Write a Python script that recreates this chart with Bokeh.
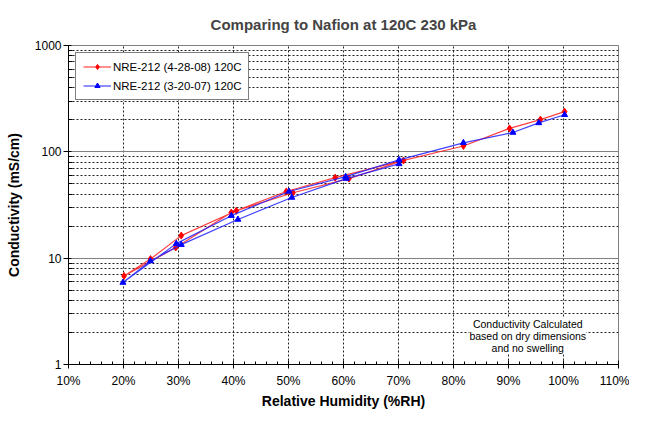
from bokeh.plotting import figure
from bokeh.models import (FixedTicker, PrintfTickFormatter, NumeralTickFormatter,
                          Legend, LegendItem, Label, Range1d)
from bokeh.embed import file_html
from bokeh.resources import INLINE

chart_title = "Comparing to Nafion at 120C 230 kPa"
x_label = "Relative Humidity (%RH)"
y_label = "Conductivity (mS/cm)"

# Series A: NRE-212 (4-28-08) 120C  (RH in %, conductivity in mS/cm)
a_name = "NRE-212 (4-28-08) 120C"
a_rh = [70.9, 61.0, 50.8, 40.5, 30.5, 24.9, 20.1, 29.5, 39.6, 49.6, 58.5, 70.0, 81.8, 90.2, 95.8, 100.2]
a_cond = [82.8, 56.0, 41.2, 27.9, 16.3, 9.8, 6.8, 12.6, 26.9, 42.4, 57.2, 81.0, 113.5, 166.0, 201.0, 239.0]

# Series B: NRE-212 (3-20-07) 120C
b_name = "NRE-212 (3-20-07) 120C"
b_rh = [70.1, 60.5, 50.6, 40.8, 30.5, 24.9, 19.9, 29.6, 39.6, 50.1, 60.4, 70.1, 81.8, 90.8, 95.5, 100.2]
b_cond = [77.0, 56.0, 37.2, 23.1, 13.4, 9.4, 5.9, 13.7, 25.1, 42.4, 58.4, 84.0, 121.6, 152.0, 187.0, 223.0]

x_ticks = [10, 20, 30, 40, 50, 60, 70, 80, 90, 100, 110]
x_minor = [v for v in range(10, 111, 2) if v % 10 != 0]
y_ticks = [1, 10, 100, 1000]
y_minor = [m * d for d in (1, 10, 100) for m in range(2, 10)]

note_lines = ["Conductivity Calculated", "based on dry dimensions", "and no swelling"]

FONT = "Liberation Sans"

p = figure(width=629, height=411,
           x_range=Range1d(10, 110), y_range=Range1d(1, 1000), y_axis_type="log",
           output_backend="svg", toolbar_location=None,
           min_border_left=68, min_border_right=11, min_border_top=44, min_border_bottom=43,
           title=chart_title)

p.title.align = "center"
p.title.text_font = FONT
p.title.text_font_size = "15px"
p.title.text_font_style = "bold"
p.title.standoff = 26
p.outline_line_color = "#808080"
p.background_fill_color = "white"
p.border_fill_color = "white"

# axes
p.xaxis.ticker = FixedTicker(ticks=x_ticks, minor_ticks=x_minor)
p.xaxis.formatter = PrintfTickFormatter(format="%d%%")
p.yaxis.ticker = FixedTicker(ticks=y_ticks, minor_ticks=y_minor)
p.yaxis.formatter = NumeralTickFormatter(format="0")

for ax in (p.xaxis, p.yaxis):
    ax.axis_line_color = "black"
    ax.major_tick_line_color = "black"
    ax.minor_tick_line_color = "black"
    ax.major_label_text_font = FONT
    ax.major_label_text_font_size = "12px"
    ax.major_label_text_color = "black"
    ax.axis_label_text_font = FONT
    ax.axis_label_text_font_size = "14px"
    ax.axis_label_text_font_style = "bold"
    ax.axis_label_text_color = "black"

p.xaxis.axis_label = x_label
p.xaxis.major_tick_in = 4
p.xaxis.major_tick_out = 4
p.xaxis.minor_tick_in = 3
p.xaxis.minor_tick_out = 0
p.xaxis.major_label_standoff = 5
p.xaxis.axis_label_standoff = 2

p.yaxis.axis_label = y_label
p.yaxis.major_tick_in = 3
p.yaxis.major_tick_out = 5
p.yaxis.minor_tick_in = 4
p.yaxis.minor_tick_out = 0
p.yaxis.major_label_standoff = 2
p.yaxis.axis_label_standoff = 10

# grids
p.xgrid.grid_line_color = "#222222"
p.xgrid.grid_line_dash = "2 2"
p.xgrid.grid_line_width = 1
p.ygrid.grid_line_color = "#808080"
p.ygrid.grid_line_width = 1.2
p.ygrid.minor_grid_line_color = "#222222"
p.ygrid.minor_grid_line_dash = "2 2"
p.ygrid.minor_grid_line_width = 1

# data
la = p.line(a_rh, a_cond, line_color="#FF2020", line_width=1.2, line_alpha=0.85)
sa = p.scatter(a_rh, a_cond, marker="diamond", size=7, fill_color="#FF0000", line_color="#FF0000")
lb = p.line(b_rh, b_cond, line_color="#2020FF", line_width=1.2, line_alpha=0.85)
sb = p.scatter(b_rh, b_cond, marker="triangle", size=6, fill_color="#0000FF", line_color="#0000FF")

legend = Legend(items=[LegendItem(label=a_name, renderers=[la, sa]),
                       LegendItem(label=b_name, renderers=[lb, sb])],
                location="top_left")
legend.margin = 7
legend.padding = 7
legend.spacing = 6
legend.glyph_width = 28
legend.glyph_height = 13
legend.label_standoff = 2
legend.label_text_font = FONT
legend.label_text_font_size = "11.5px"
legend.label_text_color = "black"
legend.border_line_color = "black"
legend.border_line_width = 1
legend.background_fill_color = "white"
legend.background_fill_alpha = 1
p.add_layout(legend)

# note text
note_y = [2.4, 1.87, 1.43]
for txt, yv in zip(note_lines, note_y):
    p.add_layout(Label(x=93.5, y=yv, text=txt, text_align="center", text_baseline="middle",
                       text_font=FONT, text_font_size="10.5px", text_color="black",
                       background_fill_color="white", background_fill_alpha=1))

open("out.html", "w").write(file_html(p, INLINE))
